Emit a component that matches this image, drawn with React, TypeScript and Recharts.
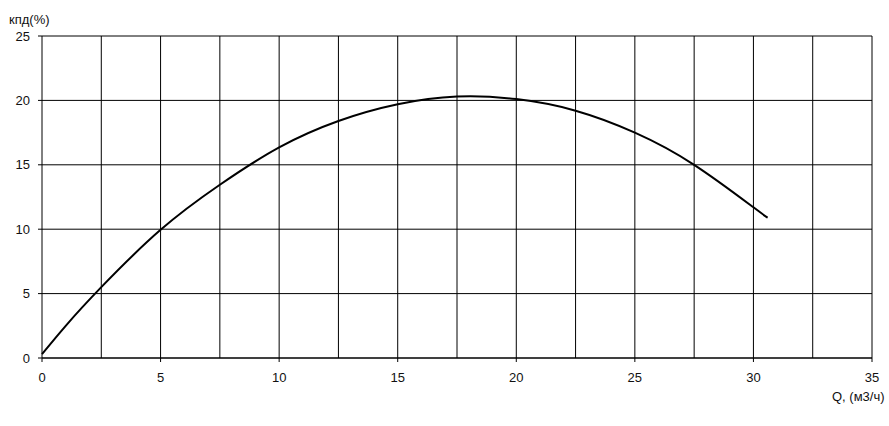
import React from "react";
import {
  LineChart,
  Line,
  XAxis,
  YAxis,
  CartesianGrid,
  ReferenceLine,
} from "recharts";

// Flow rate Q (m3/h) and efficiency (%)
const flowValues = [0, 1, 2.5, 5, 7.5, 10, 12.5, 15, 17.5, 20, 22.5, 25, 27.5, 30, 30.6];
const efficiencyValues = [0.3, 2.5, 5.5, 9.95, 13.45, 16.35, 18.4, 19.7, 20.3, 20.1, 19.2, 17.5, 15.0, 11.7, 10.9];

const xTicks = [0, 5, 10, 15, 20, 25, 30, 35];
const yTicks = [0, 5, 10, 15, 20, 25];
const xGridLines = [2.5, 5, 7.5, 10, 12.5, 15, 17.5, 20, 22.5, 25, 27.5, 30, 32.5, 35];

const yAxisTitle = "кпд(%)";
const xAxisTitle = "Q, (м3/ч)";

const data = flowValues.map((q, i) => ({ q, eff: efficiencyValues[i] }));

const FONT = "'Liberation Sans', Arial, sans-serif";
const tickStyle = { fill: "#111", fontSize: 13, fontFamily: FONT };

export default function App() {
  return (
    <div style={{ position: "absolute", left: 0, top: 0, width: 889, height: 426, background: "#fff" }}>
      <LineChart
        width={889}
        height={426}
        data={data}
        margin={{ top: 36, right: 17, bottom: 38, left: 0 }}
      >
        <CartesianGrid vertical={false} stroke="#000" strokeOpacity={1} />
        <XAxis
          dataKey="q"
          type="number"
          domain={[0, 35]}
          ticks={xTicks}
          height={30}
          tickSize={4}
          tickMargin={11}
          stroke="#000"
          tick={tickStyle}
          interval={0}
        />
        <YAxis
          type="number"
          domain={[0, 25]}
          ticks={yTicks}
          width={42}
          tickSize={4}
          tickMargin={8}
          stroke="#000"
          tick={tickStyle}
          interval={0}
        />
        {xGridLines.map((v) => (
          <ReferenceLine key={v} x={v} stroke="#000" strokeWidth={1} />
        ))}
        <Line
          type="natural"
          dataKey="eff"
          stroke="#000"
          strokeWidth={2}
          dot={false}
          isAnimationActive={false}
        />
      </LineChart>
      <div
        style={{
          position: "absolute",
          left: 9,
          top: 12,
          fontFamily: FONT,
          fontSize: 13,
          color: "#111",
          lineHeight: "15px",
        }}
      >
        {yAxisTitle}
      </div>
      <div
        style={{
          position: "absolute",
          left: 832,
          top: 389,
          fontFamily: FONT,
          fontSize: 13,
          color: "#111",
          lineHeight: "15px",
        }}
      >
        {xAxisTitle}
      </div>
    </div>
  );
}
